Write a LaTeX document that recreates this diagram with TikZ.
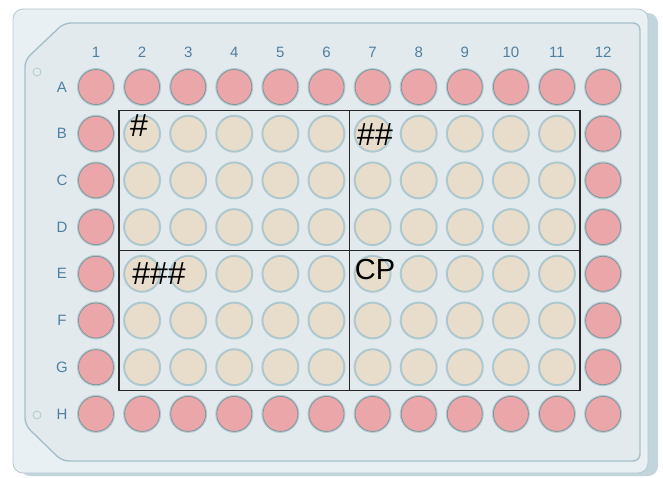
\documentclass[tikz,border=0pt]{standalone}
\usepackage{fontspec}
\setmainfont{Liberation Sans}
\usepackage{tikz}
\usetikzlibrary{calc}

\definecolor{plateside}{HTML}{C3D5DC}
\definecolor{platetop}{HTML}{E9F0F3}
\definecolor{plateedge}{HTML}{B3C8D0}
\definecolor{panel}{HTML}{E2EAEE}
\definecolor{paneledge}{HTML}{A6C0CA}
\definecolor{halo}{HTML}{B3CCD4}
\definecolor{redfill}{HTML}{EBA6A9}
\definecolor{rededge}{HTML}{83959B}
\definecolor{beigefill}{HTML}{E8DCCB}
\definecolor{beigeedge}{HTML}{A9C6CE}
\definecolor{labelblue}{HTML}{4F7F9F}

\begin{document}
\begin{tikzpicture}[
    x=1pt, y=-1pt,
    well/.style={circle, minimum size=35pt, inner sep=0pt, fill=beigefill, draw=beigeedge, line width=1pt,
        preaction={draw=halo, line width=3pt}},
    redwell/.style={well, fill=redfill, draw=rededge, line width=0.8pt},
    rowlbl/.style={font=\fontsize{15}{15}\selectfont, text=labelblue, inner sep=0pt},
    tag/.style={font=\fontsize{29}{29}\selectfont, inner sep=0pt},
    hashtag/.style={tag, font=\fontsize{32}{32}\selectfont},
    quad/.style={line width=1.3pt, black!85}
]
\useasboundingbox (0,0) rectangle (663,478);

% plate body
\fill[plateside, rounded corners=10pt] (20,13) rectangle (658,476);
\draw[plateedge, fill=platetop, rounded corners=10pt, line width=0.8pt] (13,9) rectangle (648,473);
\draw[paneledge, fill=panel, rounded corners=7pt, line width=1.4pt]
    (64,23) -- (640,23) -- (640,461) -- (62,461) -- (25,425) -- (25,60) -- cycle;
\draw[plateedge, fill=panel, line width=0.8pt] (37,72) circle (4pt);
\draw[plateedge, fill=panel, line width=0.8pt] (37,415) circle (4pt);

% column and row labels
\foreach \c in {1,...,12}
    \node[rowlbl] (col\c) at ({96+46.1*(\c-1)},52) {\c};
\foreach \r [count=\i] in {A,B,C,D,E,F,G,H}
    \node[rowlbl] (row\r) at (62,{87+46.7*(\i-1)}) {\r};

% wells
\foreach \c in {1,...,12} {
    \node[redwell] (A\c) at ({96+46.1*(\c-1)},87) {};
    \node[redwell] (H\c) at ({96+46.1*(\c-1)},{87+46.7*7}) {};
}
\foreach \r [count=\i from 1] in {B,C,D,E,F,G} {
    \node[redwell] (\r1) at (96,{87+46.7*\i}) {};
    \node[redwell] (\r12) at ({96+46.1*11},{87+46.7*\i}) {};
    \foreach \c in {2,...,11}
        \node[well] (\r\c) at ({96+46.1*(\c-1)},{87+46.7*\i}) {};
}

% quadrants
\coordinate (tl) at ($(A1)!.5!(B2)$);
\coordinate (br) at ($(G11)!.5!(H12)$);
\coordinate (mid) at ($(D6)!.5!(E7)$);
\draw[quad] (tl) rectangle (br);
\draw[quad] (tl -| mid) -- (br -| mid);
\draw[quad] (tl |- mid) -- (br |- mid);

\node[hashtag] (q1) at (139,125.5) {\#};
\node[hashtag] (q2) at (375,135) {\#\#};
\node[hashtag] (q3) at (159,273.5) {\#\#\#};
\node[tag] (q4) at (375,270) {CP};
\end{tikzpicture}
\end{document}
